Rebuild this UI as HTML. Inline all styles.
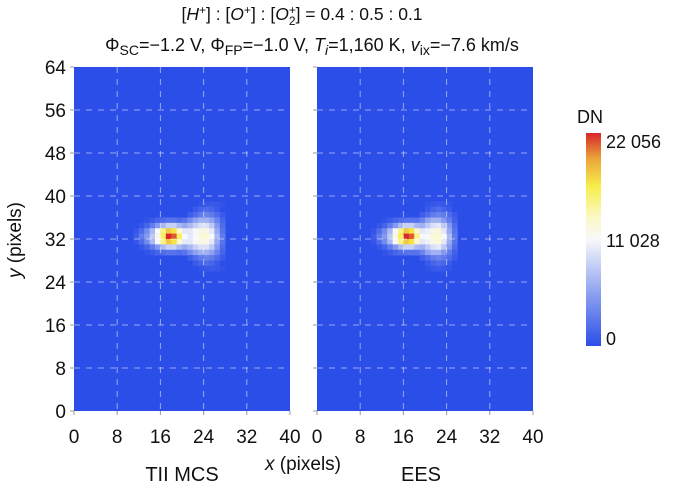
<!DOCTYPE html>
<html><head><meta charset="utf-8"><style>
html,body{margin:0;padding:0;background:#fff;}
svg text{font-family:"Liberation Sans",sans-serif;fill:#111;}
</style></head><body>
<svg id="chart" width="685" height="486" viewBox="0 0 685 486" xmlns="http://www.w3.org/2000/svg">
<defs>
<linearGradient id="cbg" x1="0" y1="1" x2="0" y2="0">
<stop offset="0" stop-color="#2c4ee8"/>
<stop offset="0.25" stop-color="#8ea2f0"/>
<stop offset="0.5" stop-color="#f8f8fb"/>
<stop offset="0.6" stop-color="#fbf8c8"/>
<stop offset="0.75" stop-color="#f7ee4a"/>
<stop offset="0.88" stop-color="#eaa43a"/>
<stop offset="1" stop-color="#d8262a"/>
</linearGradient>
</defs>
<g>
<text x="302" y="20" font-size="17.5" text-anchor="middle">[<tspan font-style="italic">H</tspan><tspan dy="-6" font-size="12">+</tspan><tspan dy="6">] : [</tspan><tspan font-style="italic">O</tspan><tspan dy="-6" font-size="12">+</tspan><tspan dy="6">] : [</tspan><tspan font-style="italic">O</tspan><tspan dy="-6" font-size="12">+</tspan><tspan dx="-7" dy="11" font-size="12">2</tspan><tspan dy="-5">] = 0.4 : 0.5 : 0.1</tspan></text>
<text x="312" y="51" font-size="18" text-anchor="middle">Φ<tspan dy="4" font-size="14">SC</tspan><tspan dy="-4">=−1.2 V, Φ</tspan><tspan dy="4" font-size="14">FP</tspan><tspan dy="-4">=−1.0 V, </tspan><tspan font-style="italic">T</tspan><tspan dy="4" font-size="14" font-style="italic">i</tspan><tspan dy="-4">=1,160 K, </tspan><tspan font-style="italic">v</tspan><tspan dy="4" font-size="14">ix</tspan><tspan dy="-4">=−7.6 km/s</tspan></text>
</g>
<g id="panels"></g>
<text x="303" y="470" font-size="19" text-anchor="middle"><tspan font-style="italic">x</tspan> (pixels)</text>
<text transform="translate(21,240) rotate(-90)" font-size="19" text-anchor="middle"><tspan font-style="italic">y</tspan> (pixels)</text>
<text x="182" y="481" font-size="20" text-anchor="middle">TII MCS</text>
<text x="421" y="481" font-size="20" text-anchor="middle">EES</text>
<g>
<text x="577" y="123" font-size="18">DN</text>
<rect x="586" y="133" width="15" height="213" fill="url(#cbg)"/>
<text x="606" y="148" font-size="18">22 056</text>
<text x="606" y="247" font-size="18">11 028</text>
<text x="606" y="345" font-size="18">0</text>
</g>
</svg>
<script>
// Heatmap data (values in thousands of DN); each row: y index, starting x index, values
const vmax = 22.056;
const xTicks = [0, 8, 16, 24, 32, 40];
const yTicks = [0, 8, 16, 24, 32, 40, 48, 56, 64];
const leftRows = [
 [38, 23, [0.3,0.6,0.8,0.6,0.3]],
 [37, 22, [0.8,1.5,2,1.5,0.8]],
 [36, 21, [1,2,3,3.5,3,2,0.8]],
 [35, 13, [0.3,0.8,1.5,2,2.5,2.5,2,2.5,4,5.5,6.5,6.5,5.5,3.5,1.5]],
 [34, 12, [0.5,1.5,3,5,7,8.5,8.5,7,6,7,8.5,9.5,9.5,8,5,2]],
 [33, 11, [0.5,2,4,7,11,15,18,17,13,10,10,11,12,12,10,6,2.5]],
 [32, 11, [1,3,5,8,12,16,22,21,16,11,10,11,12.5,13,11,7,3]],
 [31, 11, [0.5,2,4,7,11,15,18,17,13,10,10,11,12,12,10,6,2.5]],
 [30, 12, [0.5,1.5,3,5,7,8.5,8.5,7,6,7,8.5,9.5,9.5,8,5,2]],
 [29, 13, [0.3,0.8,1.5,2,2.5,2.5,2,2.5,4,5.5,6.5,6.5,5.5,3.5,1.5]],
 [28, 21, [1,2,3,3.5,3,2,0.8]],
 [27, 22, [0.8,1.5,2,1.5,0.8]],
 [26, 23, [0.3,0.6,0.8,0.6,0.3]]
];
const rightRows = [
 [38, 20, [0.3,0.6,0.8,0.6,0.3]],
 [37, 20, [0.8,1.5,2,1.5,0.8]],
 [36, 19, [1,2,3,3.5,3,2,0.8]],
 [35, 12, [0.3,0.8,1.5,2,2.5,2.5,2.5,3.5,5.5,6.5,6.5,5,3,1.2]],
 [34, 11, [0.5,1.5,3,5,7,8.5,8.5,7,6.5,8,9.5,10,8,5,2]],
 [33, 10, [0.5,2,4,7,11,15,18,17,13,10,10.5,12,12.5,10,6,2.5]],
 [32, 10, [1,3,5,8,12,16,22,21,15,11,11,12.5,13,11,7,3]],
 [31, 10, [0.5,2,4,7,11,15,18,17,13,10,10.5,12,12.5,10,6,2.5]],
 [30, 11, [0.5,1.5,3,5,7,8.5,8.5,7,6.5,8,9.5,10,8,5,2]],
 [29, 12, [0.3,0.8,1.5,2,2.5,2.5,2.5,3.5,5.5,6.5,6.5,5,3,1.2]],
 [28, 19, [1,2,3,3.5,3,2,0.8]],
 [27, 20, [0.8,1.5,2,1.5,0.8]],
 [26, 20, [0.3,0.6,0.8,0.6,0.3]]
];
const stops = [[0,[44,78,232]],[0.25,[142,162,240]],[0.5,[248,248,251]],[0.6,[251,248,200]],[0.75,[247,238,74]],[0.88,[234,164,58]],[1,[216,38,42]]];
function cmap(t){t=Math.max(0,Math.min(1,t));for(let i=1;i<stops.length;i++){if(t<=stops[i][0]){const a=stops[i-1],b=stops[i];const f=(t-a[0])/(b[0]-a[0]);const c=a[1].map((v,k)=>Math.round(v+(b[1][k]-v)*f));return `rgb(${c.join(',')})`;}}return 'rgb(216,38,42)';}
const NS='http://www.w3.org/2000/svg';
const plotTop=67, plotBot=411, plotW=216;
function mk(tag,attrs,parent){const e=document.createElementNS(NS,tag);for(const k in attrs)e.setAttribute(k,attrs[k]);parent.appendChild(e);return e;}
function panel(x0,rows,name,showY){
 const sx=v=>x0+v*plotW/40, sy=v=>plotBot-v*(plotBot-plotTop)/64;
 const g=mk('g',{},document.getElementById('panels'));
 
 
 const bg=mk('rect',{x:x0,y:plotTop,width:plotW,height:plotBot-plotTop,fill:cmap(0)},g);
 
 
 rows.forEach(r=>{const yy=r[0],xs=r[1],vals=r[2];vals.forEach((v,i)=>{
  const c=mk('rect',{x:sx(xs+i),y:sy(yy+1),width:sx(1)-sx(0)+0.3,height:sy(0)-sy(1)+0.3,fill:cmap(v/vmax)},g);
  
  
 });});
 xTicks.forEach(t=>{
  if(t>0&&t<40){const l=mk('line',{x1:sx(t),x2:sx(t),y1:plotTop,y2:plotBot,stroke:'rgba(255,255,255,0.5)','stroke-width':1,'stroke-dasharray':'6,6'},g);
  
  }
  mk('line',{x1:sx(t),x2:sx(t),y1:plotBot,y2:plotBot+4,stroke:'#999'},g);
  const tx=mk('text',{x:sx(t),y:443,'font-size':19,'text-anchor':'middle'},g);tx.textContent=t;
  
  
 });
 yTicks.forEach(t=>{
  if(t>0&&t<64){const l=mk('line',{x1:x0,x2:x0+plotW,y1:sy(t),y2:sy(t),stroke:'rgba(255,255,255,0.5)','stroke-width':1,'stroke-dasharray':'6,6'},g);
  
  }
  mk('line',{x1:x0-4,x2:x0,y1:sy(t),y2:sy(t),stroke:'#999'},g);
  if(showY){const tx=mk('text',{x:x0-8,y:sy(t)+7,'font-size':19,'text-anchor':'end'},g);tx.textContent=t;
  
  }
 });
}
panel(74,leftRows,'tii-mcs-heatmap',true);
panel(317,rightRows,'ees-heatmap',false);
</script>
</body></html>
